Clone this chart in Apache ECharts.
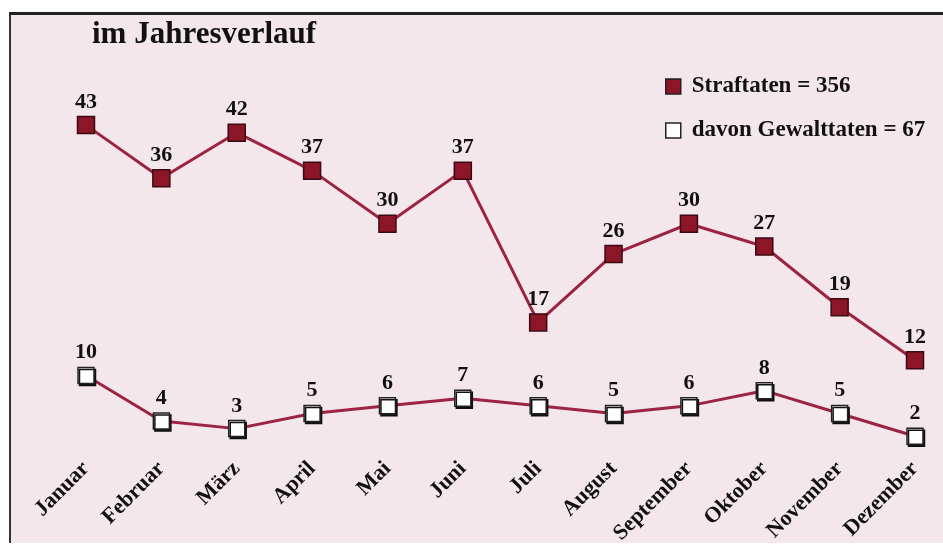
<!DOCTYPE html>
<html>
<head>
<meta charset="utf-8">
<script src="https://cdn.jsdelivr.net/npm/echarts@6/dist/echarts.min.js"></script>
<style>
    html, body { margin: 0; padding: 0; background: #fff; }
    #bg {
        position: absolute; left: 9px; top: 12px; width: 934px; height: 528px;
        background: #f4e7eb; border-top: 3px solid #222; border-left: 2px solid #333;
    }
    #chart { position: absolute; left: 0; top: 0; width: 943px; height: 547px; }
</style>
</head>
<body>
<div id="bg"></div>
<div id="chart"></div>
<script>
// Monatsdaten
const months = ['Januar', 'Februar', 'März', 'April', 'Mai', 'Juni', 'Juli', 'August', 'September', 'Oktober', 'November', 'Dezember'];
const straftaten = [43, 36, 42, 37, 30, 37, 17, 26, 30, 27, 19, 12];
const gewalttaten = [10, 4, 3, 5, 6, 7, 6, 5, 6, 8, 5, 2];
const legendNames = ['Straftaten = 356', 'davon Gewalttaten = 67'];

let serif = '"Liberation Serif", "DejaVu Serif", serif';
let lineColor = '#9b2440';

let myChart = echarts.init(document.getElementById('chart'));

let labelStyle = {
    show: true,
    position: 'top',
    distance: 3,
    color: '#111',
    fontFamily: serif,
    fontWeight: 'bold',
    fontSize: 22
};

let option = {
    animation: false,
    title: {
        text: 'im Jahresverlauf',
        left: 87,
        top: 14,
        textStyle: {
            fontFamily: serif,
            fontWeight: 'bold',
            fontSize: 31,
            color: '#111'
        }
    },
    legend: {
        orient: 'vertical',
        left: 660,
        top: 70,
        itemGap: 21,
        itemWidth: 15,
        itemHeight: 15,
        textStyle: {
            fontFamily: serif,
            fontWeight: 'bold',
            fontSize: 23,
            color: '#111',
            padding: [0, 0, 0, 6]
        },
        data: [
            { name: legendNames[0], icon: 'rect', itemStyle: { color: '#8c1528', borderColor: '#222', borderWidth: 1.5 } },
            { name: legendNames[1], icon: 'rect', itemStyle: { color: '#fff', borderColor: '#222', borderWidth: 1.5 } }
        ]
    },
    grid: {
        left: 86,
        right: 28,
        top: 72,
        bottom: 95
    },
    xAxis: {
        type: 'category',
        boundaryGap: false,
        data: months,
        axisLine: { show: false },
        axisTick: { show: false },
        axisLabel: {
            rotate: 45,
            margin: 14,
            interval: 0,
            color: '#111',
            fontFamily: serif,
            fontWeight: 'bold',
            fontSize: 22
        }
    },
    yAxis: {
        type: 'value',
        min: 0,
        max: 50,
        show: false
    },
    series: [{
        name: legendNames[0],
        type: 'line',
        data: straftaten,
        symbol: 'rect',
        symbolSize: 17,
        lineStyle: { color: lineColor, width: 3 },
        itemStyle: { color: '#8c1528', borderColor: '#3a0a12', borderWidth: 1.5 },
        label: labelStyle
    }, {
        name: legendNames[1],
        type: 'line',
        data: gewalttaten,
        symbol: 'rect',
        symbolSize: 16,
        lineStyle: { color: lineColor, width: 3 },
        itemStyle: {
            color: '#fff',
            borderColor: '#222',
            borderWidth: 1.5,
            shadowColor: '#111',
            shadowOffsetX: 1.5,
            shadowOffsetY: 2,
            shadowBlur: 0
        },
        label: labelStyle
    }]
};

myChart.setOption(option);
</script>
</body>
</html>
